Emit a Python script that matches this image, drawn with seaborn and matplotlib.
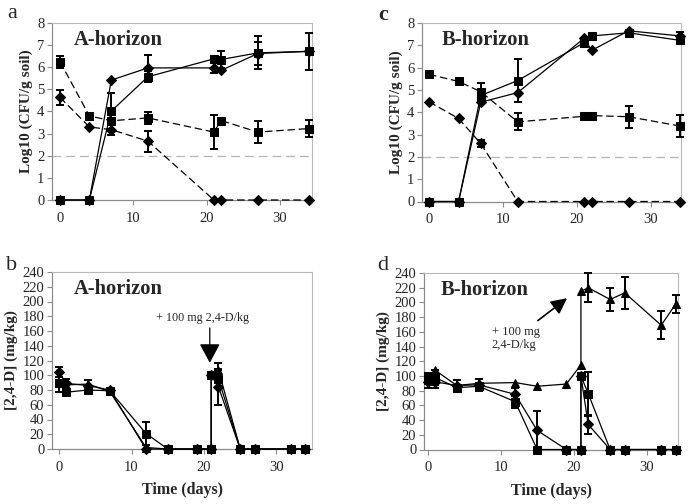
import matplotlib
matplotlib.use("Agg")
import matplotlib.pyplot as plt
import seaborn as sns
import numpy as np

# ---------------- data ----------------
days_ac = [0, 4, 7, 12, 21, 22, 27, 34]

# panel a (A-horizon, Log10 CFU/g soil)
a_sq_dash = [6.25, 3.80, 3.58, 3.71, 3.07, 3.59, 3.07, 3.23]
a_sq_dash_err = [0.27, 0, 0, 0.28, 0.77, 0, 0.50, 0.38]
a_di_dash = [4.64, 3.30, 3.18, 2.66, 0, 0, 0, 0]
a_di_dash_err = [0.35, 0, 0.22, 0.48, 0, 0, 0, 0]
a_sq_solid = [0, 0, 4.02, 5.57, 6.38, 6.35, 6.65, 6.72]
a_sq_solid_err = [0, 0, 0.80, 0.25, 0, 0.38, 0.75, 0.85]
a_di_solid = [0, 0, 5.42, 5.97, 5.97, 5.86, 6.62, 6.72]
a_di_solid_err = [0, 0, 0, 0.60, 0.25, 0, 0.50, 0]

# panel c (B-horizon, Log10 CFU/g soil)
c_sq_dash = [5.70, 5.38, 4.92, 3.57, 3.82, 3.85, 3.80, 3.38]
c_sq_dash_err = [0, 0.15, 0.40, 0.38, 0, 0, 0.50, 0.50]
c_di_dash = [4.47, 3.72, 2.60, 0, 0, 0, 0, 0]
c_di_dash_err = [0, 0, 0.15, 0, 0, 0, 0, 0]
c_sq_solid = [0, 0, 4.75, 5.42, 7.12, 7.42, 7.56, 7.22]
c_sq_solid_err = [0, 0, 0, 0.97, 0.15, 0, 0, 0.10]
c_di_solid = [0, 0, 4.45, 4.88, 7.32, 6.77, 7.65, 7.42]
c_di_solid_err = [0, 0, 0, 0.43, 0, 0, 0, 0.18]

detection_limit = 2

days_bd = [0, 1, 4, 7, 12, 15, 19, 21, 21, 22, 25, 27, 32, 34]

# panel b (A-horizon, [2,4-D] mg/kg)
b_sq = [90, 77, 80, 79, 21, 0, 0, 0, 100, 95, 0, 0, 0, 0]
b_sq_err = [13, 0, 0, 4, 15, 0, 0, 0, 0, 12, 0, 0, 0, 0]
b_di = [104, 89, 86, 80, 0, 0, 0, 0, 100, 84, 0, 0, 0, 0]
b_di_err = [7, 6, 7, 0, 0, 0, 0, 0, 0, 25, 0, 0, 0, 0]
b_tr = [90, 87, 88, 78, 2, 0, 0, 0, 100, 107, 0, 0, 0, 0]
b_tr_err = [0, 0, 0, 0, 0, 0, 0, 0, 0, 10, 0, 0, 0, 0]

# panel d (B-horizon, [2,4-D] mg/kg)
d_sq = [100, 98, 84, 86, 65, 0, 0, 0, 100, 76, 0, 0, 0, 0]
d_sq_err = [0, 10, 0, 0, 8, 0, 0, 0, 0, 30, 0, 0, 0, 0]
d_di = [92, 92, 87, 88, 75, 26, 0, 0, 100, 34, 0, 0, 0, 0]
d_di_err = [8, 8, 8, 8, 8, 26, 0, 0, 0, 13, 0, 0, 0, 0]
d_tr = [95, 108, 87, 90, 91, 86, 89, 115, 215, 220, 204, 213, 169, 198]
d_tr_err = [0, 0, 0, 0, 0, 0, 0, 0, 0, 20, 15, 22, 19, 12]

cfu_ticks = [0, 1, 2, 3, 4, 5, 6, 7, 8]
conc_ticks = list(range(0, 241, 20))
x_ticks = [0, 10, 20, 30]

# ---------------- style ----------------
sns.set_style("white")
plt.rcParams["font.family"] = ["Liberation Serif", "DejaVu Serif"]

W, H = 690, 504
fig = plt.figure(figsize=(W / 100, H / 100), dpi=100)


def ax_px(left, top, right, bottom):
    return fig.add_axes([left / W, 1 - bottom / H, (right - left) / W, (bottom - top) / H])


ax_a = ax_px(52, 23, 312, 200)
ax_c = ax_px(422, 23, 681, 201.5)
ax_b = ax_px(52, 272, 312, 449)
ax_d = ax_px(424, 273, 678, 449.5)

MS = {"s": 5.8, "D": 5.6, "^": 6.4}


def draw(ax, x, y, err, marker, dashed=False):
    ls = (0, (6, 3)) if dashed else "-"
    sns.lineplot(x=x, y=y, ax=ax, estimator=None, sort=False, color="black",
                 marker=marker, markersize=MS[marker], markeredgecolor="black",
                 markerfacecolor="black", linewidth=0.9, linestyle=ls,
                 clip_on=False, zorder=3)
    xe = [xi for xi, e in zip(x, err) if e > 0]
    ye = [yi for yi, e in zip(y, err) if e > 0]
    ee = [e for e in err if e > 0]
    if ee:
        ax.errorbar(xe, ye, yerr=ee, fmt="none", ecolor="black", elinewidth=1.4,
                    capsize=2.6, capthick=1.4, zorder=4, clip_on=False)


def style(ax, ylim, yticks, xlim, ylabel, xlabel=None):
    ax.set_xlim(*xlim)
    ax.set_ylim(*ylim)
    ax.set_yticks(yticks)
    ax.set_xticks(x_ticks)
    for s in ["top", "right"]:
        ax.spines[s].set_color("#b8b8b8")
        ax.spines[s].set_linewidth(0.8)
    for s in ["left", "bottom"]:
        ax.spines[s].set_color("#8c8c8c")
        ax.spines[s].set_linewidth(0.9)
    ax.tick_params(axis="both", direction="out", length=3.5, width=0.8,
                   color="#8c8c8c", labelsize=10.5, left=True, bottom=True)
    ax.tick_params(axis="y", pad=2)
    ax.tick_params(axis="x", pad=5)
    ax.set_ylabel(ylabel, fontsize=11, fontweight="bold", labelpad=3)
    if xlabel:
        ax.set_xlabel(xlabel, fontsize=11.5, fontweight="bold", labelpad=6)
    else:
        ax.set_xlabel("")


# panel a
ax = ax_a
ax.axhline(detection_limit, color="#b5b5b5", lw=0.9, ls=(0, (7, 4)), zorder=1)
draw(ax, days_ac, a_sq_dash, a_sq_dash_err, "s", dashed=True)
draw(ax, days_ac, a_di_dash, a_di_dash_err, "D", dashed=True)
draw(ax, days_ac, a_sq_solid, a_sq_solid_err, "s")
draw(ax, days_ac, a_di_solid, a_di_solid_err, "D")
style(ax, (0, 8), cfu_ticks, (-1.1, 34.4), "Log10 (CFU/g soil)")

# panel c
ax = ax_c
ax.axhline(detection_limit, color="#b5b5b5", lw=0.9, ls=(0, (7, 4)), zorder=1)
draw(ax, days_ac, c_sq_dash, c_sq_dash_err, "s", dashed=True)
draw(ax, days_ac, c_di_dash, c_di_dash_err, "D", dashed=True)
draw(ax, days_ac, c_sq_solid, c_sq_solid_err, "s")
draw(ax, days_ac, c_di_solid, c_di_solid_err, "D")
style(ax, (0, 8), cfu_ticks, (-0.95, 34.1), "Log10 (CFU/g soil)")

# panel b
ax = ax_b
draw(ax, days_bd, b_tr, b_tr_err, "^")
draw(ax, days_bd, b_sq, b_sq_err, "s")
draw(ax, days_bd, b_di, b_di_err, "D")
style(ax, (0, 240), conc_ticks, (-0.97, 34.9), "[2,4-D] (mg/kg)", "Time (days)")
ax.annotate("", xy=(20.8, 113), xytext=(20.8, 168),
            arrowprops=dict(arrowstyle="-|>,head_length=0.75,head_width=0.4",
                            color="black", lw=0.9, mutation_scale=16), zorder=5)
ax.text(19.8, 178, "+ 100 mg 2,4-D/kg", fontsize=8.7, ha="center", va="center")

# panel d
ax = ax_d
draw(ax, days_bd, d_tr, d_tr_err, "^")
draw(ax, days_bd, d_sq, d_sq_err, "s")
draw(ax, days_bd, d_di, d_di_err, "D")
style(ax, (0, 240), conc_ticks, (-0.5, 34.3), "[2,4-D] (mg/kg)", "Time (days)")
ax.annotate("", xy=(19.4, 208), xytext=(14.8, 173),
            arrowprops=dict(arrowstyle="-|>,head_length=0.8,head_width=0.4",
                            color="black", lw=1.2, mutation_scale=12), zorder=5)
ax.text(8.8, 151, "+ 100 mg\n2,4-D/kg", fontsize=9, ha="left", va="center",
        multialignment="left", linespacing=1.2)

# titles inside panels
title_pos = {0: 0.085, 1: 0.085, 2: 0.077, 3: 0.067}
for i, (ax, t) in enumerate(zip([ax_a, ax_b, ax_c, ax_d],
                                ["A-horizon", "A-horizon", "B-horizon", "B-horizon"])):
    ax.text(title_pos[i], 0.96, t, transform=ax.transAxes, fontsize=14.8,
            fontweight="bold", ha="left", va="top")

# panel letters
fig.text(12 / W, 1 - 14 / H, "a", fontsize=16, ha="center", va="center")
fig.text(383 / W, 1 - 15 / H, "c", fontsize=16, fontweight="bold", ha="center", va="center")
fig.text(12 / W, 1 - 265 / H, "b", fontsize=16, ha="center", va="center")
fig.text(383 / W, 1 - 266 / H, "d", fontsize=16, ha="center", va="center")

fig.savefig("out.png", dpi=100, facecolor="white")
